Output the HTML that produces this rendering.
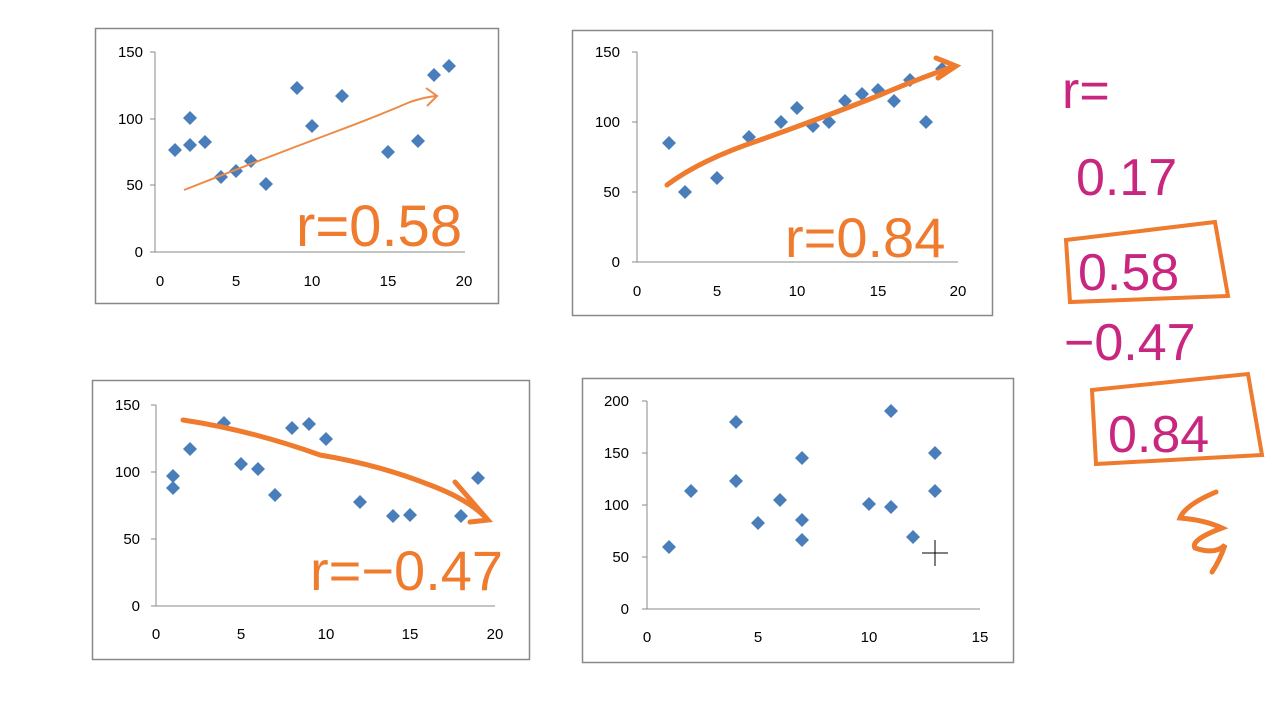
<!DOCTYPE html>
<html><head><meta charset="utf-8"><style>
html,body{margin:0;padding:0;background:#fff;width:1280px;height:720px;overflow:hidden}
svg{display:block}
.t{font-family:"Liberation Sans",sans-serif;font-size:15px;fill:#000}
.hand{font-family:"Liberation Sans",sans-serif;}
</style></head><body>
<svg width="1280" height="720" viewBox="0 0 1280 720" xmlns="http://www.w3.org/2000/svg">
<defs><path id="d" d="M0,-7 L7,0 L0,7 L-7,0Z" fill="#4a7ebb"/></defs>
<rect x="95.5" y="28.5" width="403" height="275" fill="#fff" stroke="#888" stroke-width="1.5"/>
<rect x="572.5" y="30.5" width="420" height="285" fill="#fff" stroke="#888" stroke-width="1.5"/>
<rect x="92.5" y="380.5" width="437" height="279" fill="#fff" stroke="#888" stroke-width="1.5"/>
<rect x="582.5" y="378.5" width="431" height="284" fill="#fff" stroke="#888" stroke-width="1.5"/>

<!-- chart1 -->
<g stroke="#888" stroke-width="1">
<line x1="155" y1="52" x2="155" y2="252"/><line x1="155" y1="252" x2="465" y2="252"/>
<line x1="150" y1="52" x2="155" y2="52"/><line x1="150" y1="119" x2="155" y2="119"/><line x1="150" y1="185" x2="155" y2="185"/><line x1="150" y1="252" x2="155" y2="252"/>
</g>
<g class="t" text-anchor="end"><text x="143" y="57">150</text><text x="143" y="124">100</text><text x="143" y="190">50</text><text x="143" y="257">0</text></g>
<g class="t" text-anchor="middle"><text x="160" y="286">0</text><text x="236" y="286">5</text><text x="312" y="286">10</text><text x="388" y="286">15</text><text x="464" y="286">20</text></g>
<g>
<use href="#d" x="175" y="150"/><use href="#d" x="190" y="118"/><use href="#d" x="190" y="145"/><use href="#d" x="205" y="142"/><use href="#d" x="221" y="177"/><use href="#d" x="236" y="171"/><use href="#d" x="251" y="161"/><use href="#d" x="266" y="184"/><use href="#d" x="297" y="88"/><use href="#d" x="312" y="126"/><use href="#d" x="342" y="96"/><use href="#d" x="388" y="152"/><use href="#d" x="418" y="141"/><use href="#d" x="434" y="75"/><use href="#d" x="449" y="66"/>
</g>
<path d="M184,190 Q260,160 340,130 Q380,115 410,102 Q425,97 436,96 M426,88 L437,96 L427,106" fill="none" stroke="#ee8a45" stroke-width="2"/>
<text class="hand" x="296" y="246" font-size="58" fill="#ee7b2e">r=0.58</text>

<!-- chart2 -->
<g stroke="#888" stroke-width="1">
<line x1="637" y1="52" x2="637" y2="262"/><line x1="637" y1="262" x2="958" y2="262"/>
<line x1="632" y1="52" x2="637" y2="52"/><line x1="632" y1="122" x2="637" y2="122"/><line x1="632" y1="192" x2="637" y2="192"/><line x1="632" y1="262" x2="637" y2="262"/>
</g>
<g class="t" text-anchor="end"><text x="620" y="57">150</text><text x="620" y="127">100</text><text x="620" y="197">50</text><text x="620" y="267">0</text></g>
<g class="t" text-anchor="middle"><text x="637" y="296">0</text><text x="717" y="296">5</text><text x="797" y="296">10</text><text x="878" y="296">15</text><text x="958" y="296">20</text></g>
<g>
<use href="#d" x="669" y="143"/><use href="#d" x="685" y="192"/><use href="#d" x="717" y="178"/><use href="#d" x="749" y="137"/><use href="#d" x="781" y="122"/><use href="#d" x="797" y="108"/><use href="#d" x="813" y="126"/><use href="#d" x="829" y="122"/><use href="#d" x="845" y="101"/><use href="#d" x="862" y="94"/><use href="#d" x="878" y="90"/><use href="#d" x="894" y="101"/><use href="#d" x="910" y="80"/><use href="#d" x="926" y="122"/><use href="#d" x="942" y="69"/>
</g>
<path d="M667,185 Q700,160 760,140 Q830,115 880,95 Q920,78 955,66 M936,58 L956,66 L938,78" fill="none" stroke="#ee7b2e" stroke-width="5" stroke-linecap="round"/>
<text class="hand" x="785" y="257" font-size="56" fill="#ee7b2e">r=0.84</text>

<!-- chart3 -->
<g stroke="#888" stroke-width="1">
<line x1="156" y1="405" x2="156" y2="606"/><line x1="156" y1="606" x2="495" y2="606"/>
<line x1="151" y1="405" x2="156" y2="405"/><line x1="151" y1="472" x2="156" y2="472"/><line x1="151" y1="539" x2="156" y2="539"/><line x1="151" y1="606" x2="156" y2="606"/>
</g>
<g class="t" text-anchor="end"><text x="140" y="410">150</text><text x="140" y="477">100</text><text x="140" y="544">50</text><text x="140" y="611">0</text></g>
<g class="t" text-anchor="middle"><text x="156" y="639">0</text><text x="241" y="639">5</text><text x="326" y="639">10</text><text x="410" y="639">15</text><text x="495" y="639">20</text></g>
<g>
<use href="#d" x="173" y="476"/><use href="#d" x="173" y="488"/><use href="#d" x="190" y="449"/><use href="#d" x="224" y="423"/><use href="#d" x="241" y="464"/><use href="#d" x="258" y="469"/><use href="#d" x="275" y="495"/><use href="#d" x="292" y="428"/><use href="#d" x="309" y="424"/><use href="#d" x="326" y="439"/><use href="#d" x="360" y="502"/><use href="#d" x="393" y="516"/><use href="#d" x="410" y="515"/><use href="#d" x="461" y="516"/><use href="#d" x="478" y="478"/>
</g>
<path d="M183,420 Q250,430 320,455 Q380,465 430,485 Q470,500 488,520 M455,482 L488,520 L470,522" fill="none" stroke="#ee7b2e" stroke-width="5" stroke-linecap="round"/>
<text class="hand" x="310" y="590" font-size="56" fill="#ee7b2e">r=−0.47</text>

<!-- chart4 -->
<g stroke="#888" stroke-width="1">
<line x1="647" y1="401" x2="647" y2="609"/><line x1="647" y1="609" x2="980" y2="609"/>
<line x1="642" y1="401" x2="647" y2="401"/><line x1="642" y1="453" x2="647" y2="453"/><line x1="642" y1="505" x2="647" y2="505"/><line x1="642" y1="557" x2="647" y2="557"/><line x1="642" y1="609" x2="647" y2="609"/>
</g>
<g class="t" text-anchor="end"><text x="629" y="406">200</text><text x="629" y="458">150</text><text x="629" y="510">100</text><text x="629" y="562">50</text><text x="629" y="614">0</text></g>
<g class="t" text-anchor="middle"><text x="647" y="642">0</text><text x="758" y="642">5</text><text x="869" y="642">10</text><text x="980" y="642">15</text></g>
<g>
<use href="#d" x="669" y="547"/><use href="#d" x="691" y="491"/><use href="#d" x="736" y="422"/><use href="#d" x="736" y="481"/><use href="#d" x="758" y="523"/><use href="#d" x="780" y="500"/><use href="#d" x="802" y="458"/><use href="#d" x="802" y="520"/><use href="#d" x="802" y="540"/><use href="#d" x="869" y="504"/><use href="#d" x="891" y="411"/><use href="#d" x="891" y="507"/><use href="#d" x="913" y="537"/><use href="#d" x="935" y="453"/><use href="#d" x="935" y="491"/>
</g>
<g stroke="#000" stroke-width="1"><line x1="935" y1="540" x2="935" y2="566"/><line x1="922" y1="553" x2="948" y2="553"/></g>

<!-- right annotations -->
<g class="hand" fill="#c8267f" font-size="52">
<text x="1062" y="108">r=</text>
<text x="1076" y="195">0.17</text>
<text x="1078" y="290">0.58</text>
<text x="1064" y="360">−0.47</text>
<text x="1108" y="452">0.84</text>
</g>
<path d="M1066,240 L1215,222 L1228,296 L1070,302Z" fill="none" stroke="#ee7b2e" stroke-width="4"/>
<path d="M1092,390 L1248,374 L1262,455 L1096,464Z" fill="none" stroke="#ee7b2e" stroke-width="4"/>
<path d="M1216,492 Q1185,505 1180,518 Q1205,520 1222,528 Q1190,540 1195,548 Q1215,555 1225,545 Q1220,560 1212,572" fill="none" stroke="#ee7b2e" stroke-width="5" stroke-linecap="round"/>
</svg>
</body></html>
